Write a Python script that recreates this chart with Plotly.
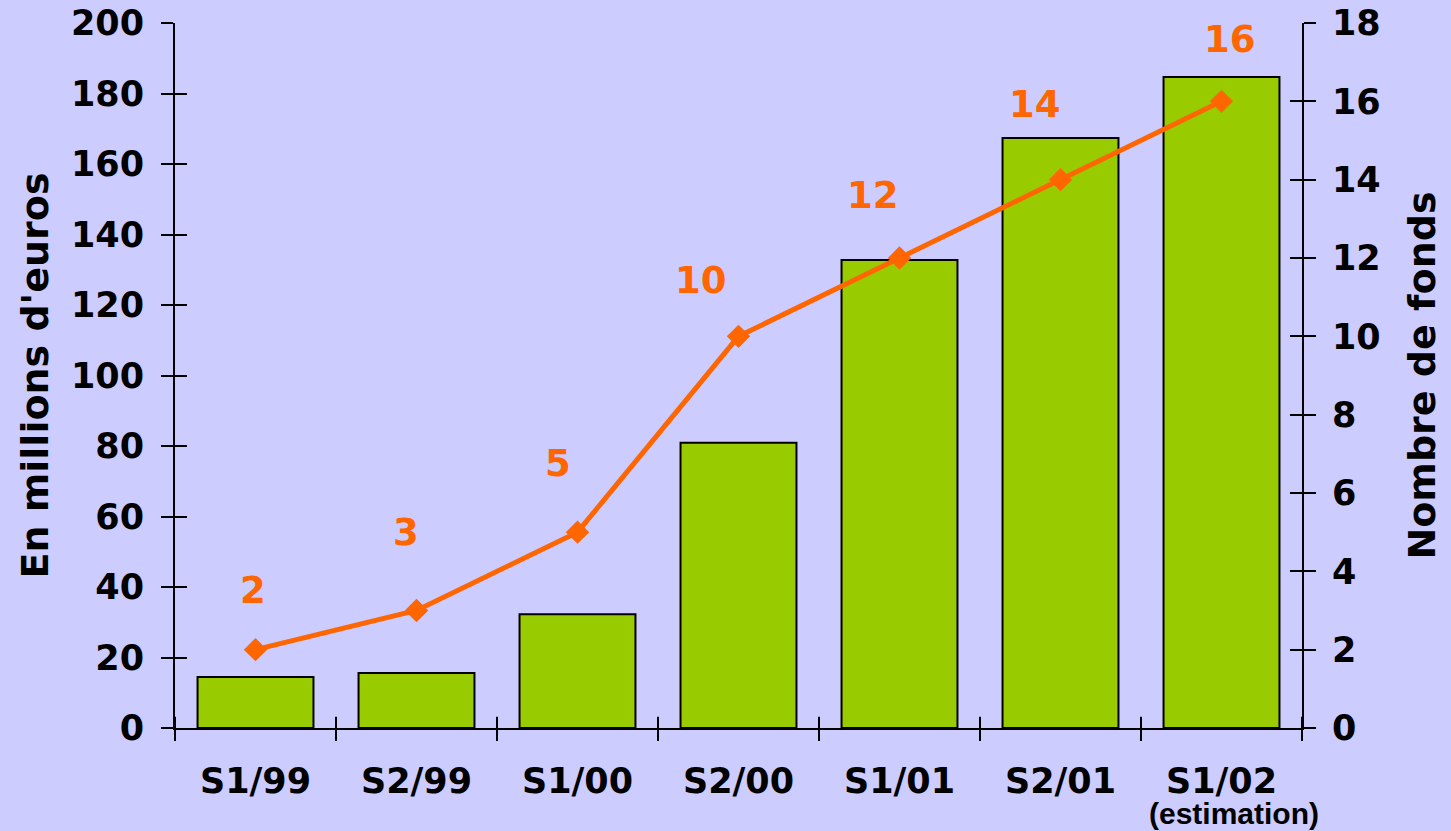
import plotly.graph_objects as go

categories = ["S1/99", "S2/99", "S1/00", "S2/00", "S1/01", "S2/01", "S1/02"]
tick_labels = ["S1/99", "S2/99", "S1/00", "S2/00", "S1/01", "S2/01", "S1/02"]
note_label = "(estimation)"
montants = [14.5, 15.6, 32.3, 80.9, 132.8, 167.4, 184.7]   # millions d'euros
nb_fonds = [2, 3, 5, 10, 12, 14, 16]
left_ticks = list(range(0, 201, 20))
right_ticks = list(range(0, 19, 2))

BG = "#CCCCFF"
GREEN = "#99CC00"
ORANGE = "#FF6600"
FONT = "DejaVu Sans"

# label offsets (styling)
lbl_dx = [-3, -11, -20, -38, -27, -26, 8]
lbl_dy = [59, 78, 69, 56, 63, 75, 62]

fig = go.Figure()
fig.add_trace(go.Bar(x=categories, y=montants, marker=dict(color=GREEN, line=dict(color="black", width=2)),
                     width=0.72, xaxis="x", yaxis="y", showlegend=False))
fig.add_trace(go.Scatter(x=categories, y=nb_fonds, mode="lines+markers",
                         line=dict(color=ORANGE, width=5),
                         marker=dict(symbol="diamond", size=18, color=ORANGE),
                         xaxis="x", yaxis="y2", showlegend=False))
# empty helper traces so the tick-only overlay axes are drawn
fig.add_trace(go.Scatter(x=[], y=[], xaxis="x", yaxis="y3", showlegend=False, hoverinfo="skip"))
fig.add_trace(go.Scatter(x=[], y=[], xaxis="x", yaxis="y4", showlegend=False, hoverinfo="skip"))

for i, (c, v) in enumerate(zip(categories, nb_fonds)):
    fig.add_annotation(x=c, y=v, xref="x", yref="y2", text=str(v), showarrow=False,
                       xshift=lbl_dx[i], yshift=lbl_dy[i],
                       font=dict(family=FONT, size=37, color=ORANGE, weight="bold"))

fig.add_annotation(x=categories[-1], y=0, xref="x", yref="paper", text=note_label, showarrow=False,
                   xshift=12, yshift=-85, yanchor="middle",
                   font=dict(family="Liberation Sans", size=30, color="black", weight="bold"))

# inner half of the category-boundary ticks (they cross the x axis line)
for k in range(len(categories) + 1):
    fig.add_shape(type="line", xref="x", yref="y domain", x0=k - 0.5, x1=k - 0.5,
                  y0=0, y1=0.016, line=dict(color="black", width=2), layer="above")

tickfont = dict(family=FONT, size=35, color="black", weight="bold")
titlefont = dict(family=FONT, size=38, color="black", weight="bold")

fig.update_layout(
    width=1451, height=831, autosize=False,
    paper_bgcolor=BG, plot_bgcolor=BG,
    margin=dict(l=175, r=149, t=23, b=103, autoexpand=False),
    xaxis=dict(type="category", categoryarray=categories, tickvals=categories, ticktext=tick_labels,
               tickson="boundaries", ticks="outside", ticklen=11, tickwidth=2, tickcolor="black",
               showline=True, linecolor="black", linewidth=2, showgrid=False, zeroline=False,
               tickfont=tickfont, ticklabelstandoff=21, range=[-0.5, 6.5], tickangle=0,
               automargin=False),
    yaxis=dict(range=[0, 200], tickvals=left_ticks, ticks="outside", ticklen=12, tickwidth=2,
               tickcolor="black", showline=True, linecolor="black", linewidth=2, showgrid=False,
               zeroline=False, tickfont=tickfont, ticklabelstandoff=10, automargin=False,
               title=dict(text="En millions d'euros", font=titlefont, standoff=11)),
    yaxis2=dict(range=[0, 18], tickvals=right_ticks, overlaying="y", side="right", anchor="x",
                ticks="outside", ticklen=12, tickwidth=2, tickcolor="black", showline=True,
                linecolor="black", linewidth=2, showgrid=False, zeroline=False, tickfont=tickfont,
                ticklabelstandoff=9, automargin=False,
                title=dict(text="Nombre de fonds", font=titlefont, standoff=29)),
    yaxis3=dict(range=[0, 200], tickvals=left_ticks, overlaying="y", side="left", anchor="x",
                ticks="inside", ticklen=12, tickwidth=2, tickcolor="black",
                showticklabels=False, showline=False, showgrid=False, zeroline=False, automargin=False),
    yaxis4=dict(range=[0, 18], tickvals=right_ticks, overlaying="y", side="right", anchor="x",
                ticks="inside", ticklen=12, tickwidth=2, tickcolor="black",
                showticklabels=False, showline=False, showgrid=False, zeroline=False, automargin=False),
)

fig.write_html("out.html", config={"displayModeBar": False},
               post_script="document.body.style.margin='0';")
